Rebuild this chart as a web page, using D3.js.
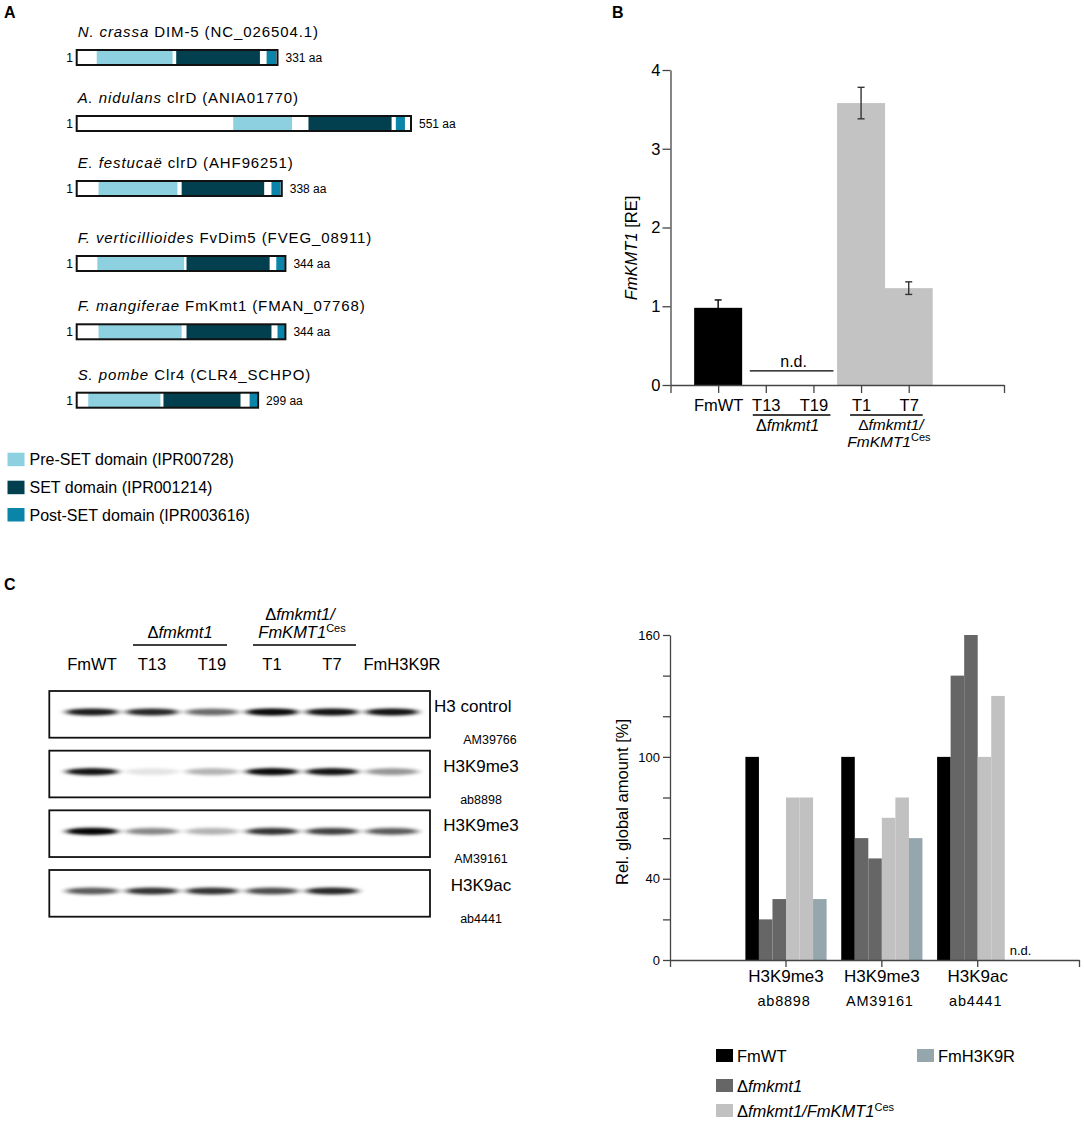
<!DOCTYPE html>
<html><head><meta charset="utf-8">
<script src="https://cdn.jsdelivr.net/npm/d3@7"></script>
<style>
body{margin:0;background:#fff;}
svg{display:block;font-family:"Liberation Sans",Arial,Helvetica,sans-serif;}
</style></head><body>
<svg id="fig" width="1084" height="1121"></svg>
<script>
// ---------- Panel A data ----------
const speciesNames = ["N. crassa","A. nidulans","E. festucaë","F. verticillioides","F. mangiferae","S. pombe"];
const proteinNames = ["DIM-5 (NC_026504.1)","clrD (ANIA01770)","clrD (AHF96251)","FvDim5 (FVEG_08911)","FmKmt1 (FMAN_07768)","Clr4 (CLR4_SCHPO)"];
const proteinLengths = [331,551,338,344,344,299];
const preSetDomain  = [[33,158],[258,355],[36,166],[34,177],[36,173],[19,138]];
const setDomain     = [[164,302],[382,519],[173,309],[181,318],[181,321],[143,270]];
const postSetDomain = [[313,329],[526,541],[321,336],[329,343],[331,344],[285,298]];
const domainLegend = ["Pre-SET domain (IPR00728)","SET domain (IPR001214)","Post-SET domain (IPR003616)"];

// ---------- Panel B data ----------
const bCategories = ["FmWT","T13","T19","T1","T7"];
const bValues = [0.98,null,null,3.58,1.23];
const bErrors = [0.10,null,null,0.20,0.08];
const bTicks = [0,1,2,3,4];

// ---------- Panel C blot data ----------
const blotLanes = ["FmWT","T13","T19","T1","T7","FmH3K9R"];
const blotTargets = ["H3 control","H3K9me3","H3K9me3","H3K9ac"];
const blotAntibodies = ["AM39766","ab8898","AM39161","ab4441"];
const bandH3control = [0.85,0.80,0.55,0.95,0.90,0.90];
const bandAb8898    = [0.90,0.12,0.30,0.95,0.90,0.40];
const bandAM39161   = [1.00,0.45,0.30,0.75,0.70,0.60];
const bandAb4441    = [0.60,0.75,0.75,0.65,0.80,0.00];

// ---------- Panel C bar chart data ----------
const cGroupLabels = ["H3K9me3","H3K9me3","H3K9ac"];
const cGroupAntibodies = ["ab8898","AM39161","ab4441"];
const cSeries = ["FmWT","T13","T19","T1","T7","FmH3K9R"];
const cFmWT   = [100,100,100];
const cT13    = [20,60,140];
const cT19    = [30,50,160];
const cT1     = [80,70,100];
const cT7     = [80,80,130];
const cH3K9R  = [30,60,null];
const cTicks = [0,20,40,60,80,100,120,140,160];
const cTickLabels = [0,40,100,160];

// ---------- styles ----------
const colPre = "#8dd0e0", colSet = "#03404f", colPost = "#0a84a8";
const svg = d3.select("#fig");

function label(x,y,t){svg.append("text").attr("x",x).attr("y",y).attr("font-size",16).attr("font-weight","bold").text(t);}
label(4,18,"A"); label(612,18,"B"); label(4,590,"C");

// ================= Panel A =================
const ax = d3.scaleLinear().domain([0,551]).range([76.7,411]);
const rowTop = [50,116,181,256,324.3,392.7];
const barH = 15;
const gA = svg.append("g");
speciesNames.forEach((sp,i)=>{
  const t = rowTop[i];
  const title = gA.append("text").attr("x",77.7).attr("y",t-13).attr("font-size",15).attr("letter-spacing",0.9);
  title.append("tspan").attr("font-style","italic").text(sp);
  title.append("tspan").text(" "+proteinNames[i]);
  gA.append("rect").attr("x",ax(0)).attr("y",t).attr("width",ax(proteinLengths[i])-ax(0)).attr("height",barH).attr("fill","#fff");
  [[preSetDomain[i],colPre],[setDomain[i],colSet],[postSetDomain[i],colPost]].forEach(([d,c])=>{
    gA.append("rect").attr("x",ax(d[0])).attr("y",t).attr("width",ax(d[1])-ax(d[0])).attr("height",barH).attr("fill",c);
  });
  gA.append("rect").attr("x",ax(0)).attr("y",t).attr("width",ax(proteinLengths[i])-ax(0)).attr("height",barH)
    .attr("fill","none").attr("stroke","#111").attr("stroke-width",2);
  gA.append("text").attr("x",73).attr("y",t+barH/2+4.5).attr("text-anchor","end").attr("font-size",12).text("1");
  gA.append("text").attr("x",ax(proteinLengths[i])+8).attr("y",t+barH/2+4.5).attr("font-size",12).text(proteinLengths[i]+" aa");
});
const legTop = [452.7,480.7,508];
[colPre,colSet,colPost].forEach((c,i)=>{
  gA.append("rect").attr("x",7.5).attr("y",legTop[i]).attr("width",17).attr("height",13.5).attr("fill",c);
  gA.append("text").attr("x",29.5).attr("y",legTop[i]+12.5).attr("font-size",16).text(domainLegend[i]);
});

// ================= Panel B =================
const gB = svg.append("g").attr("font-size",16.5);
const bx = d3.scaleLinear().domain([0,7]).range([670.5,1004]);
const by = d3.scaleLinear().domain([0,4]).range([385,70]);
const bColor = i => i===0 ? "#000" : "#c3c3c3";
bCategories.forEach((c,i)=>{
  if(bValues[i]==null) return;
  const cx = bx(i+1);
  gB.append("rect").attr("x",cx-24).attr("y",by(bValues[i])).attr("width",48).attr("height",by(0)-by(bValues[i])).attr("fill",bColor(i));
  const hi = by(bValues[i]+bErrors[i]), lo = by(bValues[i]-bErrors[i]);
  const ec = i===0 ? "#000" : "#333";
  gB.append("line").attr("x1",cx).attr("x2",cx).attr("y1",hi).attr("y2",lo).attr("stroke",ec).attr("stroke-width",1.4);
  gB.append("line").attr("x1",cx-3.5).attr("x2",cx+3.5).attr("y1",hi).attr("y2",hi).attr("stroke",ec).attr("stroke-width",1.4);
  gB.append("line").attr("x1",cx-3.5).attr("x2",cx+3.5).attr("y1",lo).attr("y2",lo).attr("stroke",ec).attr("stroke-width",1.4);
});
const byAxis = gB.append("g").attr("transform",`translate(${bx(0)},0)`)
  .call(d3.axisLeft(by).tickValues(bTicks).tickSize(8).tickSizeOuter(0).tickPadding(2).tickFormat(d3.format("d")));
const bxAxis = gB.append("g").attr("transform",`translate(0,${by(0)})`)
  .call(d3.axisBottom(bx).tickValues([0,1,2,3,4,5,7]).tickSize(8).tickSizeOuter(0).tickPadding(6)
  .tickFormat(d=> (d>=1&&d<=5)? bCategories[d-1] : ""));
[byAxis,bxAxis].forEach(a=>{
  a.selectAll("path,line").attr("stroke","#444").attr("stroke-width",1.3);
  a.selectAll("text").attr("font-size",16.5).attr("fill","#000").attr("font-family",null);
});
// n.d. for knock-out strains
gB.append("line").attr("x1",bx(2)-16).attr("x2",bx(3)+20).attr("y1",by(0.18)).attr("y2",by(0.18)).attr("stroke","#000").attr("stroke-width",1.4);
gB.append("text").attr("x",(bx(2)+bx(3))/2+4).attr("y",by(0.18)-4).attr("text-anchor","middle").attr("font-size",16).text("n.d.");
// group labels
gB.append("line").attr("x1",bx(2)-13).attr("x2",bx(3)+17).attr("y1",415).attr("y2",415).attr("stroke","#000").attr("stroke-width",1.4);
let t1 = gB.append("text").attr("x",(bx(2)+bx(3))/2-2).attr("y",431).attr("text-anchor","middle").attr("font-size",16);
t1.append("tspan").text("Δ"); t1.append("tspan").attr("font-style","italic").text("fmkmt1");
gB.append("line").attr("x1",bx(4)-11).attr("x2",bx(5)+14).attr("y1",415).attr("y2",415).attr("stroke","#000").attr("stroke-width",1.4);
let t2 = gB.append("text").attr("x",(bx(4)+bx(5))/2+6).attr("y",430).attr("text-anchor","middle").attr("font-size",15.5);
t2.append("tspan").text("Δ"); t2.append("tspan").attr("font-style","italic").text("fmkmt1/");
let t3 = gB.append("text").attr("x",(bx(4)+bx(5))/2+4).attr("y",447).attr("text-anchor","middle").attr("font-size",15.5);
t3.append("tspan").attr("font-style","italic").text("FmKMT1");
t3.append("tspan").attr("font-size",11).attr("dy",-6).text("Ces");
// y label
const yl = gB.append("text").attr("transform",`translate(637,248) rotate(-90)`).attr("text-anchor","middle");
yl.append("tspan").attr("font-style","italic").text("FmKMT1");
yl.append("tspan").text(" [RE]");

// ================= Panel C: Western blot =================
const gW = svg.append("g");
const defs = svg.append("defs");
defs.append("filter").attr("id","blur").attr("x","-50%").attr("y","-300%").attr("width","200%").attr("height","700%")
  .append("feGaussianBlur").attr("stdDeviation","3 1.4");
defs.append("filter").attr("id","blur2").attr("x","-50%").attr("y","-300%").attr("width","200%").attr("height","700%")
  .append("feGaussianBlur").attr("stdDeviation","2 0.9");
const laneX = d3.scalePoint().domain(blotLanes).range([92,392]);
const blotY = d3.scaleLinear().domain([0,3]).range([691,870]);
const boxH = 46.7;
const bandSets = [bandH3control,bandAb8898,bandAM39161,bandAb4441];
// column labels
blotLanes.forEach((l,i)=>{
  gW.append("text").attr("x",laneX(l)+(i===5?10:0)).attr("y",670).attr("text-anchor","middle").attr("font-size",16.5).text(l);
});
gW.append("line").attr("x1",laneX("T13")-19).attr("x2",laneX("T19")+15).attr("y1",645).attr("y2",645).attr("stroke","#000").attr("stroke-width",1.4);
let w1 = gW.append("text").attr("x",(laneX("T13")+laneX("T19"))/2-2).attr("y",638).attr("text-anchor","middle").attr("font-size",16.5);
w1.append("tspan").text("Δ"); w1.append("tspan").attr("font-style","italic").text("fmkmt1");
gW.append("line").attr("x1",laneX("T1")-19).attr("x2",laneX("T7")+24).attr("y1",645).attr("y2",645).attr("stroke","#000").attr("stroke-width",1.4);
let w2 = gW.append("text").attr("x",(laneX("T1")+laneX("T7"))/2-2).attr("y",620).attr("text-anchor","middle").attr("font-size",16.5);
w2.append("tspan").text("Δ"); w2.append("tspan").attr("font-style","italic").text("fmkmt1/");
let w3 = gW.append("text").attr("x",(laneX("T1")+laneX("T7"))/2).attr("y",638).attr("text-anchor","middle").attr("font-size",16.5);
w3.append("tspan").attr("font-style","italic").text("FmKMT1");
w3.append("tspan").attr("font-size",11).attr("dy",-6).text("Ces");

bandSets.forEach((bands,bi)=>{
  const top = blotY(bi);
  const g = gW.append("g");
  bands.forEach((v,li)=>{
    if(!v) return;
    const cx = laneX(blotLanes[li]);
    const cy = top + 21;
    g.append("ellipse").attr("cx",cx).attr("cy",cy).attr("rx",28).attr("ry",3.8).attr("fill","#000")
      .attr("opacity",Math.min(1,v*0.75)).attr("filter","url(#blur)");
    g.append("ellipse").attr("cx",cx).attr("cy",cy).attr("rx",22).attr("ry",2.4).attr("fill","#000")
      .attr("opacity",Math.min(1,v*v*0.95)).attr("filter","url(#blur2)");
  });
  gW.append("rect").attr("x",49.3).attr("y",top).attr("width",380.7).attr("height",boxH).attr("fill","none").attr("stroke","#111").attr("stroke-width",1.8);
  gW.append("text").attr("x",bi===0?434:481).attr("y",top+21).attr("text-anchor",bi===0?"start":"middle").attr("font-size",17).text(blotTargets[bi]);
  gW.append("text").attr("x",bi===0?490:481).attr("y",top+53).attr("text-anchor","middle").attr("font-size",12.5).text(blotAntibodies[bi]);
});

// ================= Panel C: bar chart =================
const gC = svg.append("g");
const cy = d3.scaleLinear().domain([0,160]).range([960,635]);
const cx = d3.scalePoint().domain([0,1,2]).range([786,977.7]);
const cInner = d3.scaleBand().domain(cSeries).range([-40.6,40.6]);
const cColors = {FmWT:"#000000",T13:"#666666",T19:"#666666",T1:"#c1c1c1",T7:"#c1c1c1",FmH3K9R:"#95a7ad"};
const cData = {FmWT:cFmWT,T13:cT13,T19:cT19,T1:cT1,T7:cT7,FmH3K9R:cH3K9R};
cSeries.forEach(s=>{
  cData[s].forEach((v,gi)=>{
    if(v==null) return;
    gC.append("rect").attr("x",cx(gi)+cInner(s)).attr("y",cy(v)).attr("width",cInner.bandwidth()).attr("height",cy(0)-cy(v)).attr("fill",cColors[s]);
  });
});
gC.append("text").attr("x",cx(2)+cInner("FmH3K9R")+5).attr("y",cy(0)-5).attr("font-size",13).text("n.d.");
const cyAxis = gC.append("g").attr("transform","translate(670,0)")
  .call(d3.axisLeft(cy).tickValues(cTicks).tickSize(7).tickSizeOuter(0).tickPadding(3)
  .tickFormat(d=> cTickLabels.includes(d)? d : ""));
const cxAxisLine = d3.scaleLinear().domain([0,1]).range([670,1079]);
const cxAxis = gC.append("g").attr("transform",`translate(0,${cy(0)})`)
  .call(d3.axisBottom(cxAxisLine).tickValues([0,1]).tickSize(7).tickSizeOuter(0).tickFormat(""));
[0,1,2].forEach(gi=>{
  gC.append("line").attr("x1",cx(gi)).attr("x2",cx(gi)).attr("y1",cy(0)).attr("y2",cy(0)+7).attr("stroke","#444").attr("stroke-width",1.3);
  gC.append("text").attr("x",cx(gi)).attr("y",982).attr("text-anchor","middle").attr("font-size",17).text(cGroupLabels[gi]);
  gC.append("text").attr("x",cx(gi)-2).attr("y",1006).attr("text-anchor","middle").attr("font-size",14.5).attr("letter-spacing",0.8).text(cGroupAntibodies[gi]);
});
[cyAxis,cxAxis].forEach(a=>{
  a.selectAll("path,line").attr("stroke","#444").attr("stroke-width",1.3);
  a.selectAll("text").attr("font-size",13).attr("fill","#000").attr("font-family",null);
});
gC.append("text").attr("transform","translate(628,802) rotate(-90)").attr("text-anchor","middle").attr("font-size",16.5).text("Rel. global amount [%]");
// legend
const legItems = [
  {key:"FmWT",x:716,y:1049},
  {key:"FmH3K9R",x:917,y:1049},
  {key:"T13",x:716,y:1079},
  {key:"T1",x:716,y:1104}
];
legItems.forEach(it=>{
  gC.append("rect").attr("x",it.x).attr("y",it.y).attr("width",17).attr("height",13).attr("fill",cColors[it.key]);
  const t = gC.append("text").attr("x",it.x+21).attr("y",it.y+12.5).attr("font-size",16.5);
  if(it.key==="FmWT"||it.key==="FmH3K9R") t.text(it.key);
  else if(it.key==="T13"){ t.append("tspan").text("Δ"); t.append("tspan").attr("font-style","italic").text("fmkmt1"); }
  else { t.append("tspan").text("Δ"); t.append("tspan").attr("font-style","italic").text("fmkmt1/FmKMT1");
         t.append("tspan").attr("font-size",11).attr("dy",-6).text("Ces"); }
});
</script></body></html>
